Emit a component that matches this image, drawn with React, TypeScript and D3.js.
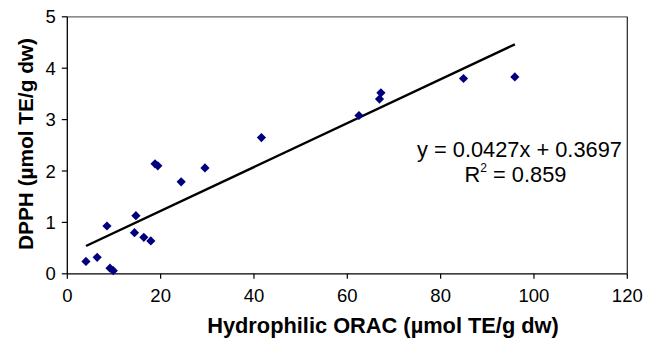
import React from "react";
import * as d3 from "d3";

const orac: number[] = [4.0, 6.4, 8.5, 9.15, 9.86, 14.4, 14.7, 16.4, 17.9, 18.8, 19.4, 24.4, 29.5, 41.6, 62.5, 66.9, 67.2, 84.9, 95.9];
const dpph: number[] = [0.24, 0.32, 0.93, 0.11, 0.06, 0.80, 1.13, 0.71, 0.64, 2.14, 2.10, 1.79, 2.06, 2.65, 3.08, 3.40, 3.52, 3.80, 3.83];
const slope = 0.0427;
const intercept = 0.3697;
const xTicks: number[] = [0, 20, 40, 60, 80, 100, 120];
const yTicks: number[] = [0, 1, 2, 3, 4, 5];
const eqText = "y = 0.0427x + 0.3697";
const r2Value = "0.859";
const xTitle = "Hydrophilic ORAC (µmol TE/g dw)";
const yTitle = "DPPH (µmol TE/g dw)";

export default function App() {
  const W = 646, H = 338;
  const L = 67.3, R = 627.3, T = 16.8, B = 273.8;
  const x = d3.scaleLinear().domain([0, 120]).range([L, R]);
  const y = d3.scaleLinear().domain([0, 5]).range([B, T]);
  const font = "'Liberation Sans', Arial, sans-serif";
  const xMin = d3.min(orac)!;
  const xMax = d3.max(orac)!;
  const line = d3.line<number>().x((d) => x(d)).y((d) => y(slope * d + intercept));
  const diamond = (cx: number, cy: number, r: number) =>
    `M${cx},${cy - r}L${cx + r},${cy}L${cx},${cy + r}L${cx - r},${cy}Z`;

  return (
    <svg width={W} height={H} style={{ position: "absolute", left: 0, top: 0, background: "#fff" }} fontFamily={font}>
      <rect x={0} y={0} width={W} height={H} fill="#fff" />
      {/* plot border */}
      <line x1={L} x2={R} y1={T} y2={T} stroke="#666" strokeWidth={1.3} />
      <line x1={R} x2={R} y1={T} y2={B} stroke="#222" strokeWidth={1.2} />
      {/* axes */}
      <line x1={L} x2={L} y1={T} y2={B} stroke="#000" strokeWidth={1.3} />
      <line x1={L} x2={R} y1={B} y2={B} stroke="#000" strokeWidth={1.3} />
      {yTicks.map((t) => (
        <g key={"y" + t}>
          <line x1={L - 5.5} x2={L} y1={y(t)} y2={y(t)} stroke="#000" strokeWidth={1.2} />
          <text x={L - 11.5} y={y(t)} dy="0.36em" fontSize={18.5} textAnchor="end" fill="#000">{t}</text>
        </g>
      ))}
      {xTicks.map((t) => (
        <g key={"x" + t}>
          <line x1={x(t)} x2={x(t)} y1={B} y2={B + 5} stroke="#000" strokeWidth={1.2} />
          <text x={x(t)} y={302} fontSize={18.5} textAnchor="middle" fill="#000">{t}</text>
        </g>
      ))}
      {/* trendline */}
      <path d={line([xMin, xMax]) || ""} stroke="#000" strokeWidth={2.4} fill="none" />
      {/* points */}
      {orac.map((v, i) => (
        <path key={i} d={diamond(x(v), y(dpph[i]), 4.6)} fill="#00007f" />
      ))}
      {/* equation */}
      <text x={519.5} y={156.5} fontSize={21.8} textAnchor="middle" fill="#000">{eqText}</text>
      <text x={515.5} y={181.5} fontSize={21.8} textAnchor="middle" fill="#000">
        R<tspan fontSize={12} dy={-10}>2</tspan><tspan dy={10}> = {r2Value}</tspan>
      </text>
      {/* titles */}
      <text x={383} y={333} fontSize={21.8} fontWeight="bold" textAnchor="middle" fill="#000">{xTitle}</text>
      <text transform={`translate(32.5,144) rotate(-90)`} fontSize={20.8} fontWeight="bold" textAnchor="middle" fill="#000">{yTitle}</text>
    </svg>
  );
}
